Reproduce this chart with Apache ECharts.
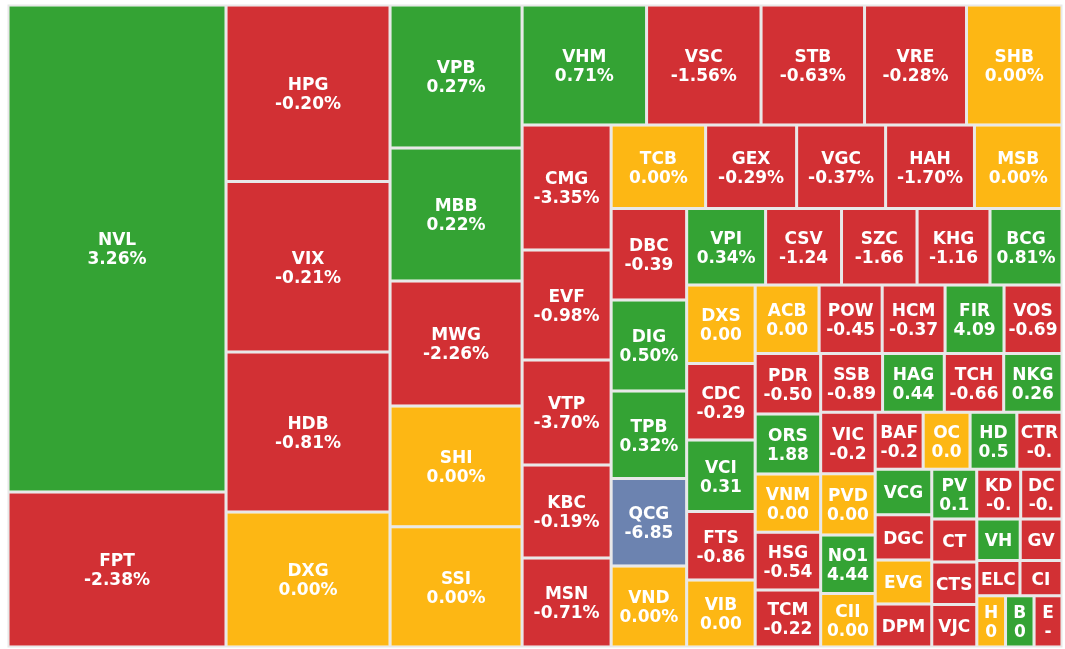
<!DOCTYPE html>
<html><head><meta charset="utf-8">
<script src="https://cdn.jsdelivr.net/npm/echarts/dist/echarts.min.js"></script>
<style>html,body{margin:0;padding:0;background:#fff}#c{width:1065px;height:649px}</style>
</head><body><div id="c"></div>
<script>
const names = ['NVL','FPT','HPG','VIX','HDB','DXG','VPB','MBB','MWG','SHI',
  'SSI','VHM','VSC','STB','VRE','SHB','CMG','EVF','VTP','KBC',
  'MSN','TCB','GEX','VGC','HAH','MSB','DBC','DIG','TPB','QCG',
  'VND','VPI','CSV','SZC','KHG','BCG','DXS','CDC','VCI','FTS',
  'VIB','ACB','POW','HCM','FIR','VOS','PDR','ORS','VNM','HSG',
  'TCM','SSB','HAG','TCH','NKG','VIC','PVD','NO1','CII','BAF',
  'OC','HD','CTR','VCG','DGC','EVG','DPM','PV','KD','DC',
  'CT','CTS','VJC','VH','GV','ELC','CI','H','B','E'];
const sizes = [1061.7,337.9,289.5,279.6,262.4,221.4,188.8,175.6,165.0,159.3,
  158.9,149.4,137.4,124.2,122.4,114.6,111.3,97.9,93.5,82.8,
  79.2,78.9,76.0,74.3,74.2,73.1,69.1,68.7,66.1,66.0,
  61.2,60.4,58.1,57.8,55.8,55.1,53.8,52.4,49.0,46.9,
  45.9,43.8,43.2,43.1,40.4,39.7,39.6,39.3,38.0,37.9,
  37.3,36.3,36.2,34.8,34.2,33.5,33.4,31.9,29.2,27.4,
  26.8,26.7,25.8,25.7,25.6,24.9,24.3,22.3,21.8,20.5,
  19.4,19.2,19.1,18.1,17.4,15.2,14.8,14.7,14.6,14.3];
const changes = ['3.26%','-2.38%','-0.20%','-0.21%','-0.81%','0.00%','0.27%','0.22%','-2.26%','0.00%',
  '0.00%','0.71%','-1.56%','-0.63%','-0.28%','0.00%','-3.35%','-0.98%','-3.70%','-0.19%',
  '-0.71%','0.00%','-0.29%','-0.37%','-1.70%','0.00%','-0.39','0.50%','0.32%','-6.85',
  '0.00%','0.34%','-1.24','-1.66','-1.16','0.81%','0.00','-0.29','0.31','-0.86',
  '0.00','0.00','-0.45','-0.37','4.09','-0.69','-0.50','1.88','0.00','-0.54',
  '-0.22','-0.89','0.44','-0.66','0.26','-0.2','0.00','4.44','0.00','-0.2',
  '0.0','0.5','-0.','','','','','0.1','-0.','-0.',
  '','','','','','','','0','0','-'];
// 1 = up, -1 = down, 0 = unchanged, -2 = floor
const moves = [1,-1,-1,-1,-1,0,1,1,-1,0,
  0,1,-1,-1,-1,0,-1,-1,-1,-1,
  -1,0,-1,-1,-1,0,-1,1,1,-2,
  0,1,-1,-1,-1,1,0,-1,1,-1,
  0,0,-1,-1,1,-1,-1,1,0,-1,
  -1,-1,1,-1,1,-1,0,1,0,-1,
  0,1,-1,1,-1,0,-1,1,-1,-1,
  -1,-1,-1,1,-1,-1,-1,0,1,-1];
const palette = {'1':'#34a334','-1':'#d23034','0':'#fdb714','-2':'#6c83b0'};
const data = names.map((n,i)=>({name:n, value:sizes[i], change:changes[i], itemStyle:{color:palette[moves[i]]}}));
const chart = echarts.init(document.getElementById('c'), null, {renderer:'canvas'});
chart.setOption({
  animation:false,
  series:[{
    type:'treemap', left:7.5, top:4.5, width:1055, height:643,
    squareRatio:0.978, roam:false, nodeClick:false, breadcrumb:{show:false},
    sort:'desc',
    label:{show:true, position:'inside', offset:[0,2],
      formatter: p => p.data.change ? p.name + '\n' + p.data.change : p.name,
      color:'#fff', fontFamily:'DejaVu Sans', fontWeight:'bold', fontSize:17, lineHeight:19,
      overflow:'none', padding:0},
    levels:[{itemStyle:{borderWidth:2, gapWidth:3, borderColor:'#e8e8e8'}},
            {itemStyle:{borderWidth:0, gapWidth:0}}],
    data
  }]
});
</script></body></html>
